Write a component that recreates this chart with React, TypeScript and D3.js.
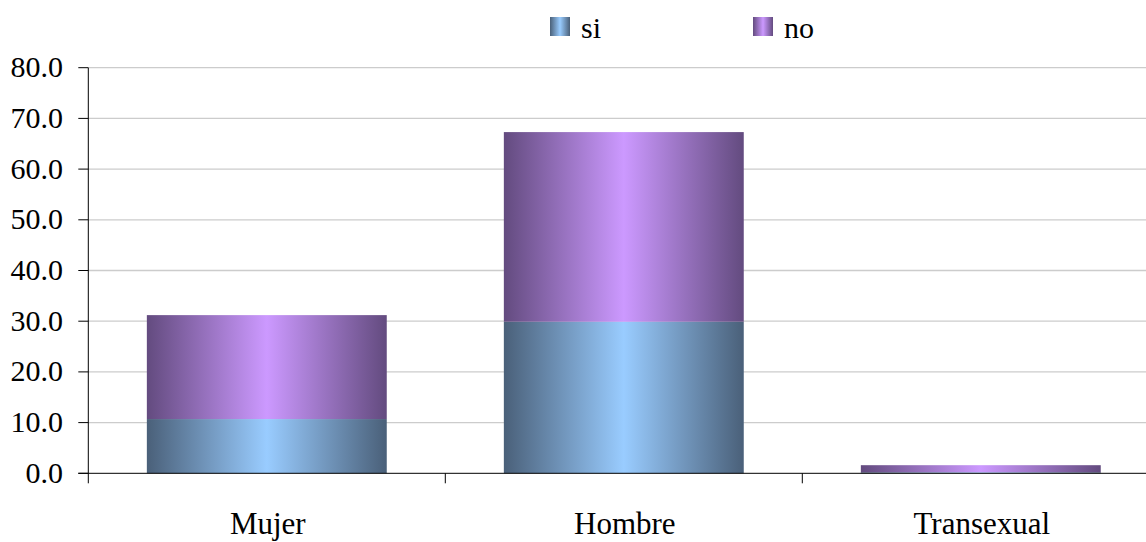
import React from "react";
import * as d3 from "d3";

const categories = ["Mujer", "Hombre", "Transexual"];
const siValues = [10.7, 29.9, 0.2];
const noValues = [20.5, 37.4, 1.4];
const yTicks = [0, 10, 20, 30, 40, 50, 60, 70, 80];
const seriesNames = ["si", "no"];

const W = 1146;
const H = 542;
const left = 88.3;
const bottom = 473.3;
const top = 67.7;
const step = 357;

export default function App() {
  const x = d3
    .scaleBand<string>()
    .domain(categories)
    .range([left, left + step * categories.length])
    .paddingInner(0.328)
    .paddingOuter(0.164);
  const y = d3.scaleLinear().domain([0, 80]).range([bottom, top]);

  const rows = categories.map((c, i) => ({ cat: c, si: siValues[i], no: noValues[i] }));
  const stacked = d3.stack<any>().keys(seriesNames)(rows);
  const fills = ["url(#gSi)", "url(#gNo)"];
  const fam = '"Liberation Serif", "Times New Roman", Times, serif';
  const textStyle = { fontFamily: fam, fontSize: "30px" };
  const xStyle = { fontFamily: fam, fontSize: "31px" };

  return (
    <svg width={W} height={H} style={{ position: "absolute", left: 0, top: 0, background: "#fff" }}>
      <defs>
        <linearGradient id="gSi" x1="0" x2="1" y1="0" y2="0">
          <stop offset="0" stopColor="#4a6079" />
          <stop offset="0.5" stopColor="#99ccff" />
          <stop offset="1" stopColor="#4a6079" />
        </linearGradient>
        <linearGradient id="gNo" x1="0" x2="1" y1="0" y2="0">
          <stop offset="0" stopColor="#634b7f" />
          <stop offset="0.5" stopColor="#cc99ff" />
          <stop offset="1" stopColor="#634b7f" />
        </linearGradient>
      </defs>
      {yTicks.filter((t) => t > 0).map((t) => (
        <line key={t} x1={left} x2={left + step * 3} y1={y(t)} y2={y(t)} stroke="#cccccc" strokeWidth={1.3} />
      ))}
      {stacked.map((s, si) => (
        <g key={s.key}>
          {s.map((d, i) => (
            <rect
              key={i}
              x={x(categories[i])}
              width={x.bandwidth()}
              y={y(d[1])}
              height={Math.max(0, y(d[0]) - y(d[1]))}
              fill={fills[si]}
            />
          ))}
        </g>
      ))}
      <line x1={left} x2={left} y1={top} y2={bottom} stroke="#000" strokeWidth={1} />
      {yTicks.map((t) => (
        <g key={t}>
          <line x1={left - 10} x2={left} y1={y(t)} y2={y(t)} stroke="#000" strokeWidth={1} />
          <text x={63} y={y(t) + 9.5} textAnchor="end" style={textStyle} fill="#000">
            {t.toFixed(1)}
          </text>
        </g>
      ))}
      <line x1={left - 10} x2={left + step * 3} y1={bottom} y2={bottom} stroke="#000" strokeWidth={1} />
      {[0, 1, 2, 3].map((i) => (
        <line key={i} x1={left + step * i} x2={left + step * i} y1={bottom} y2={bottom + 10} stroke="#000" strokeWidth={1} />
      ))}
      {categories.map((c) => (
        <text key={c} x={(x(c) as number) + x.bandwidth() / 2 + 1} y={534} textAnchor="middle" style={xStyle} fill="#000">
          {c}
        </text>
      ))}
      {seriesNames.map((n, i) => (
        <g key={n} transform={`translate(${[550, 753][i]},0)`}>
          <rect x={0} y={17} width={20} height={19} fill={fills[i]} />
          <text x={31} y={38} style={textStyle} fill="#000">
            {n}
          </text>
        </g>
      ))}
    </svg>
  );
}
